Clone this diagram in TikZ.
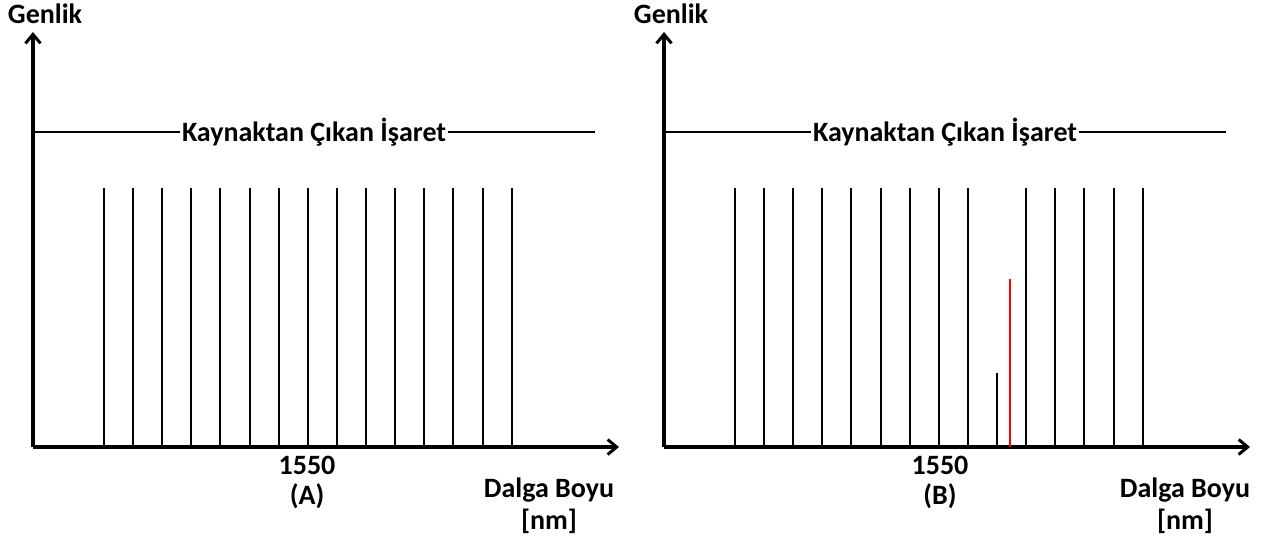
\documentclass[tikz,border=0pt]{standalone}
\usepackage{fontspec}
\setmainfont{Carlito}
\usetikzlibrary{arrows.meta}
\begin{document}
\begin{tikzpicture}[x=1pt,y=-1pt,
  axis/.style={line width=3.6pt,-{Straight Barb[length=9pt,width=15pt,line width=3pt]}},
  spec/.style={line width=2pt},
  src/.style={line width=1.5pt},
  lbl/.style={font=\fontsize{28}{32}\selectfont\bfseries,inner sep=1pt},
  srclbl/.style={font=\fontsize{28}{32}\selectfont\bfseries,fill=white,inner sep=2pt}]
\useasboundingbox (0,0) rectangle (1267,539);
% ---------- Panel A ----------
\coordinate (oA) at (33,447);
\coordinate (yA) at (33,32);
\coordinate (xA) at (619,447);
\draw[axis] (oA) -- (yA);
\draw[axis] (oA) -- (xA);
\node[lbl] (genA) at (45,14) {Genlik};
\coordinate (sA1) at (33,132);
\coordinate (sA2) at (595,132);
\draw[src] (sA1) -- node[srclbl] (kayA) {Kaynaktan Çıkan İşaret} (sA2);
\foreach \k in {0,...,14}{
  \draw[spec] ({104+\k*29.12},447) -- ({104+\k*29.12},188);
}
\node[lbl] (nA) at (307,465) {1550};
\node[lbl] (labA) at (307,496) {(A)};
\node[lbl] (dA) at (549,490) {Dalga Boyu};
\node[lbl] (nmA) at (549,521) {[nm]};
% ---------- Panel B ----------
\coordinate (oB) at (664,447);
\coordinate (yB) at (664,32);
\coordinate (xB) at (1250,447);
\draw[axis] (oB) -- (yB);
\draw[axis] (oB) -- (xB);
\node[lbl] (genB) at (671,14) {Genlik};
\coordinate (sB1) at (664,132);
\coordinate (sB2) at (1226,132);
\draw[src] (sB1) -- node[srclbl] (kayB) {Kaynaktan Çıkan İşaret} (sB2);
\foreach \k in {0,...,8,10,11,12,13,14}{
  \draw[spec] ({735+\k*29.12},447) -- ({735+\k*29.12},188);
}
\draw[spec] (997,447) -- (997,373);
\draw[spec,red] (1010,447) -- (1010,279);
\node[lbl] (nB) at (940,465) {1550};
\node[lbl] (labB) at (940,496) {(B)};
\node[lbl] (dB) at (1185,490) {Dalga Boyu};
\node[lbl] (nmB) at (1185,521) {[nm]};
\end{tikzpicture}
\end{document}
